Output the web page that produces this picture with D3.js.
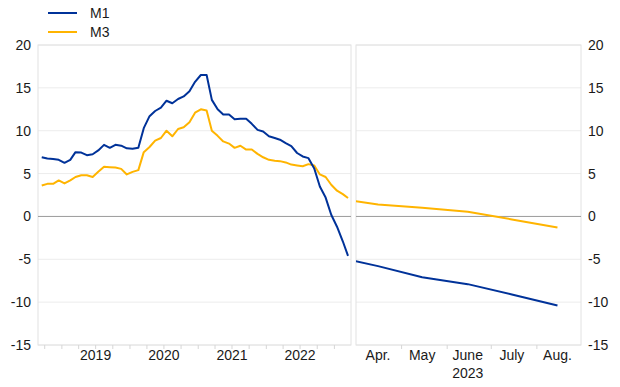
<!DOCTYPE html>
<html>
<head>
<meta charset="utf-8">
<script src="https://cdn.jsdelivr.net/npm/d3@7"></script>
<style>
  body { margin: 0; background: #fff; }
  svg { display: block; font-family: "Liberation Sans", Arial, Helvetica, sans-serif; }
</style>
</head>
<body>
<div class="chart"></div>
<script>
// monthly annual growth rates, Sep 2018 - Mar 2023
const histStart = '2018-09'
const m1Hist = [6.9, 6.75, 6.7, 6.6,
  6.25, 6.6, 7.5, 7.45, 7.15, 7.25, 7.7, 8.35, 8.0, 8.35, 8.25, 7.95,
  7.9, 8.0, 10.3, 11.7, 12.3, 12.7, 13.5, 13.2, 13.7, 14.0, 14.6, 15.7,
  16.5, 16.5, 13.6, 12.5, 11.9, 11.9, 11.35, 11.4, 11.4, 10.8, 10.1, 9.9,
  9.35, 9.15, 8.95, 8.55, 8.2, 7.4, 7.0, 6.8, 5.6, 3.5, 2.2, 0.2,
  -1.2, -2.9, -4.6]
const m3Hist = [3.6, 3.8, 3.8, 4.2,
  3.85, 4.2, 4.6, 4.8, 4.8, 4.6, 5.2, 5.8, 5.75, 5.7, 5.55, 4.9,
  5.2, 5.4, 7.5, 8.1, 8.85, 9.15, 10.0, 9.35, 10.2, 10.4, 11.0, 12.1,
  12.5, 12.35, 10.0, 9.4, 8.75, 8.5, 8.0, 8.25, 7.8, 7.8, 7.3, 6.9,
  6.6, 6.5, 6.45, 6.3, 6.05, 5.95, 5.85, 6.1, 5.95, 4.9, 4.6, 3.7,
  3.0, 2.6, 2.15]

// right panel: Mar - Aug 2023 (March point only carries the line in)
const recentMonths = ['2023-03', '2023-04', '2023-05', '2023-06', '2023-07', '2023-08']
const m1Recent = [-4.6, -5.8, -7.1, -7.9, -9.1, -10.4]
const m3Recent = [2.15, 1.4, 1.0, 0.55, -0.35, -1.3]

const yearLabels = ['2019', '2020', '2021', '2022']
const monthLabels = ['Apr.', 'May', 'June', 'July', 'Aug.']
const yTicks = [20, 15, 10, 5, 0, -5, -10, -15]

const series = [
  {name: 'M1', color: '#003299'},
  {name: 'M3', color: '#ffb400'}
]

const width = 620, height = 387
const parseMonth = d3.timeParse('%Y-%m')
const mid = d => d3.timeDay.offset(d, 14)

const histDates = m1Hist.map((d, i) => mid(d3.timeMonth.offset(parseMonth(histStart), i)))
const recentDates = recentMonths.map(m => mid(parseMonth(m)))

const svg = d3.select('.chart').append('svg')
  .attr('width', width).attr('height', height)

const y = d3.scaleLinear().domain([-15, 20]).range([345, 45])

const xL = d3.scaleTime()
  .domain([new Date(2018, 7, 26), new Date(2023, 2, 31)])
  .range([38, 351])
const xR = d3.scaleTime()
  .domain([new Date(2023, 2, 31), new Date(2023, 7, 31)])
  .range([356, 581])

function panel(x, id) {
  const [x0, x1] = x.range()
  const g = svg.append('g')
  g.append('clipPath').attr('id', id).append('rect')
    .attr('x', x0).attr('y', 40).attr('width', x1 - x0).attr('height', 310)
  // grid
  g.selectAll('line.grid').data(yTicks.filter(t => t !== 0))
    .enter().append('line')
    .attr('x1', x0).attr('x2', x1)
    .attr('y1', d => y(d)).attr('y2', d => y(d))
    .attr('stroke', '#ececec').attr('stroke-width', 1)
  // border
  g.append('rect')
    .attr('x', x0).attr('y', y(20)).attr('width', x1 - x0).attr('height', y(-15) - y(20))
    .attr('fill', 'none').attr('stroke', '#e2e2e2').attr('stroke-width', 1)
  g.append('line')
    .attr('x1', x0).attr('x2', x1).attr('y1', y(0)).attr('y2', y(0))
    .attr('stroke', '#9a9a9a').attr('stroke-width', 1)
  return g
}

const gL = panel(xL, 'clipL')
const gR = panel(xR, 'clipR')

// small ticks under the panels
gL.selectAll('line.tick')
  .data(d3.timeMonth.every(3).range(xL.domain()[0], xL.domain()[1]))
  .enter().append('line')
  .attr('x1', d => xL(d)).attr('x2', d => xL(d))
  .attr('y1', 345).attr('y2', 349)
  .attr('stroke', '#d6d6d6')
gR.selectAll('line.tick')
  .data(d3.timeMonth.range(new Date(2023, 4, 1), new Date(2023, 7, 2)))
  .enter().append('line')
  .attr('x1', d => xR(d)).attr('x2', d => xR(d))
  .attr('y1', 345).attr('y2', 349)
  .attr('stroke', '#d6d6d6')

function drawLines(g, x, dates, values, clip) {
  values.forEach((vals, k) => {
    g.append('path')
      .datum(vals)
      .attr('clip-path', 'url(#' + clip + ')')
      .attr('fill', 'none')
      .attr('stroke', series[k].color)
      .attr('stroke-width', 2)
      .attr('stroke-linejoin', 'round')
      .attr('d', d3.line()
        .x((d, i) => x(dates[i]))
        .y(d => y(d)))
  })
}

drawLines(gL, xL, histDates, [m3Hist, m1Hist], 'clipL')
// keep colours right: M3 first (underneath), M1 on top
gL.selectAll('path').attr('stroke', (d, i) => i === 0 ? series[1].color : series[0].color)
drawLines(gR, xR, recentDates, [m3Recent, m1Recent], 'clipR')
gR.selectAll('path').attr('stroke', (d, i) => i === 0 ? series[1].color : series[0].color)

// y labels both sides
const txt = '#1a1a1a'
svg.selectAll('text.yl').data(yTicks).enter().append('text')
  .attr('x', 31).attr('y', d => y(d)).attr('dy', '0.36em')
  .attr('text-anchor', 'end').attr('font-size', 14).attr('fill', txt)
  .text(d => d)
svg.selectAll('text.yr').data(yTicks).enter().append('text')
  .attr('x', 588).attr('y', d => y(d)).attr('dy', '0.36em')
  .attr('text-anchor', 'start').attr('font-size', 14).attr('fill', txt)
  .text(d => d)

// x labels
svg.selectAll('text.yr2').data(yearLabels).enter().append('text')
  .attr('x', d => xL(new Date(+d, 6, 1))).attr('y', 360)
  .attr('text-anchor', 'middle').attr('font-size', 14).attr('fill', txt)
  .text(d => d)
svg.selectAll('text.mo').data(monthLabels).enter().append('text')
  .attr('x', (d, i) => xR(recentDates[i + 1])).attr('y', 360)
  .attr('text-anchor', 'middle').attr('font-size', 14).attr('fill', txt)
  .text(d => d)
svg.append('text')
  .attr('x', xR(recentDates[3])).attr('y', 378)
  .attr('text-anchor', 'middle').attr('font-size', 14).attr('fill', txt)
  .text('2023')

// legend
const lg = svg.append('g')
series.forEach((s, i) => {
  lg.append('line')
    .attr('x1', 48).attr('x2', 77).attr('y1', 13 + i * 19).attr('y2', 13 + i * 19)
    .attr('stroke', s.color).attr('stroke-width', 2)
  lg.append('text')
    .attr('x', 90).attr('y', 13 + i * 19).attr('dy', '0.36em')
    .attr('font-size', 14).attr('fill', txt)
    .text(s.name)
})
</script>
</body>
</html>
